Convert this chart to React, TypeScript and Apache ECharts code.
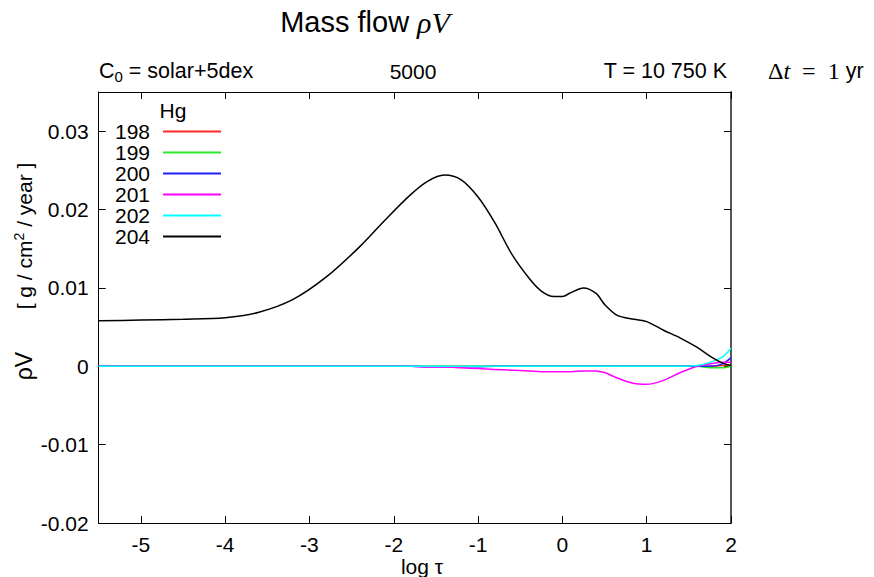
import React, { useEffect, useRef } from 'react';
import * as echarts from 'echarts';

const logTau = [-5.5, -5, -4.5, -4, -3.6, -3.2, -2.8, -2.4, -2.1, -1.8, -1.6, -1.4, -1.2, -1.0, -0.8, -0.6, -0.4, -0.25, -0.1, 0.0, 0.1, 0.25, 0.4, 0.5, 0.65, 0.85, 1.0, 1.2, 1.4, 1.6, 1.75, 1.9, 2.0];

const hg198 = [0, 0, 0, 0, 0, 0, 0, 0, 0, 0, 0, 0, 0, 0, 0, 0, 0, 0, 0, 0, 0, 0, 0, 0, 0, 0, 0, 0, 0, 0, 0.0, 0.0001, 0.0001];
const hg199 = [0, 0, 0, 0, 0, 0, 0, 0, 0, 0, 0, 0, 0, 0, 0, 0, 0, 0, 0, 0, 0, 0, 0, 0, 0, 0, 0, 0, 0, 0, -0.0002, -0.0002, 0.0];
const hg200 = [0, 0, 0, 0, 0, 0, 0, 0, 0, 0, -0.00005, -0.00005, -0.00005, -0.00005, 0, 0, 0, 0, 0, 0, 0, 0, 0, 0, 0, 0, 0, 0, 0, 0, 0.0, 0.0003, 0.0011];
const hg201 = [0, 0, 0, 0, 0, 0, 0, 0, 0, 0, -0.0001, -0.0001, -0.0002, -0.0003, -0.0004, -0.0005, -0.0006, -0.0007, -0.0007, -0.0007, -0.0007, -0.0006, -0.0006, -0.0008, -0.0015, -0.0022, -0.0023, -0.0018, -0.0008, 0.0, 0.0003, 0.0005, 0.0005];
const hg202 = [0, 0, 0, 0, 0, 0, 0, 0, 0, 0, 0, 0, 0, 0, 0, 0, 0, 0, 0, 0, 0, 0, 0, 0, 0, 0, 0, 0, 0, 0.0001, 0.0005, 0.0012, 0.0023];
const hg204 = [0.0058, 0.0059, 0.0060, 0.0062, 0.0069, 0.0085, 0.0114, 0.0153, 0.0187, 0.0219, 0.0236, 0.0244, 0.0238, 0.0216, 0.0183, 0.0143, 0.0113, 0.0096, 0.0089, 0.0089, 0.0094, 0.0100, 0.0093, 0.0079, 0.0065, 0.0060, 0.0057, 0.0046, 0.0036, 0.0024, 0.0013, 0.0004, 0.0001];

const seriesNames = ['198', '199', '200', '201', '202', '204'];
const seriesValues = [hg198, hg199, hg200, hg201, hg202, hg204];
const seriesColors = ['#ff2828', '#28e828', '#2020ff', '#ff00ff', '#00ffff', '#000000'];

const xTicks = [-5, -4, -3, -2, -1, 0, 1, 2];
const yTicks = [-0.02, -0.01, 0, 0.01, 0.02, 0.03];

const SANS = "'Liberation Sans', Arial, sans-serif";
const SERIF = "'Liberation Serif', 'DejaVu Serif', serif";

export default function App() {
  const ref = useRef<HTMLDivElement>(null);
  useEffect(() => {
    const chart = echarts.init(ref.current!, null, { renderer: 'svg' });
    const axisCommon = {
      type: 'value',
      axisLine: { show: true, onZero: false, lineStyle: { color: '#000', width: 1 } },
      splitLine: { show: false },
    };
    const option: any = {
      animation: false,
      backgroundColor: '#fff',
      grid: { left: 98.7, right: 143, top: 92, bottom: 54, show: false },
      xAxis: [
        {
          ...axisCommon,
          position: 'bottom',
          min: -5.5,
          max: 2,
          axisTick: { show: true, inside: true, length: 7, customValues: xTicks, lineStyle: { color: '#000' } },
          axisLabel: { show: true, customValues: xTicks, margin: 11, fontSize: 21, color: '#000', fontFamily: SANS },
        },
        {
          ...axisCommon,
          position: 'top',
          min: -5.5,
          max: 2,
          axisTick: { show: true, inside: true, length: 7, customValues: xTicks, lineStyle: { color: '#000' } },
          axisLabel: { show: false },
        },
      ],
      yAxis: [
        {
          ...axisCommon,
          position: 'left',
          min: -0.02,
          max: 0.035,
          axisTick: { show: true, inside: true, length: 7, customValues: yTicks, lineStyle: { color: '#000' } },
          axisLabel: {
            show: true, customValues: yTicks, margin: 10, fontSize: 21, color: '#000', fontFamily: SANS,
            formatter: (v: number) => (Math.abs(v) < 1e-9 ? '0' : v.toFixed(2)),
          },
        },
        {
          ...axisCommon,
          position: 'right',
          min: -0.02,
          max: 0.035,
          axisLine: { show: true, onZero: false, lineStyle: { color: '#555', width: 2 } },
          axisTick: { show: true, inside: true, length: 7, customValues: yTicks, lineStyle: { color: '#000', width: 1 } },
          axisLabel: { show: false },
        },
      ],
      legend: {
        data: seriesNames,
        orient: 'vertical',
        left: 110,
        top: 116,
        align: 'right',
        itemWidth: 58,
        itemHeight: 2,
        itemGap: 0,
        icon: 'rect',
        selectedMode: false,
        textStyle: { fontSize: 21, color: '#000', fontFamily: SANS, padding: [0, 8, 0, 0] },
      },
      series: seriesNames.map((name, i) => ({
        name,
        type: 'line',
        xAxisIndex: 0,
        yAxisIndex: 0,
        showSymbol: false,
        smooth: 0.3,
        color: seriesColors[i],
        lineStyle: { color: seriesColors[i], width: 1.5 },
        data: logTau.map((x, j) => [x, seriesValues[i][j]]),
        z: 2 + i,
      })),
      graphic: [
        {
          type: 'text', x: 365, y: 22,
          style: {
            text: '{a|Mass flow }{b|ρV}',
            align: 'center', verticalAlign: 'middle', fill: '#000',
            rich: {
              a: { fontSize: 29, fontFamily: SANS, fill: '#000' },
              b: { fontSize: 30, fontFamily: SERIF, fontStyle: 'italic', fill: '#000' },
            },
          },
        },
        {
          type: 'text', x: 99, y: 71,
          style: {
            text: '{a|C}{s|0}{a| = solar+5dex}',
            align: 'left', verticalAlign: 'middle', fill: '#000',
            rich: {
              a: { fontSize: 21.5, fontFamily: SANS, fill: '#000', lineHeight: 26, verticalAlign: 'middle' },
              s: { fontSize: 15, fontFamily: SANS, fill: '#000', lineHeight: 26, verticalAlign: 'bottom', padding: [8, 0, 0, 0] },
            },
          },
        },
        {
          type: 'text', x: 413, y: 71,
          style: { text: '5000', align: 'center', verticalAlign: 'middle', fontSize: 21, fontFamily: SANS, fill: '#000' },
        },
        {
          type: 'text', x: 727, y: 71,
          style: { text: 'T = 10 750 K', align: 'right', verticalAlign: 'middle', fontSize: 21.5, fontFamily: SANS, fill: '#000' },
        },
        {
          type: 'text', x: 768, y: 71,
          style: {
            text: '{u|Δ}{i|t}{u|  =  1 }{a|yr}',
            align: 'left', verticalAlign: 'middle', fill: '#000',
            rich: {
              u: { fontSize: 24, fontFamily: SERIF, fill: '#000' },
              i: { fontSize: 24, fontFamily: SERIF, fontStyle: 'italic', fill: '#000' },
              a: { fontSize: 21.5, fontFamily: SANS, fill: '#000' },
            },
          },
        },
        {
          type: 'text', x: 24, y: 236, rotation: Math.PI / 2,
          style: {
            text: '{a|[ g / cm}{s|2}{a| / year ]}',
            align: 'center', verticalAlign: 'middle', fill: '#000',
            rich: {
              a: { fontSize: 21, fontFamily: SANS, fill: '#000', lineHeight: 26 },
              s: { fontSize: 14, fontFamily: SANS, fill: '#000', lineHeight: 26, padding: [0, 0, 10, 0] },
            },
          },
        },
        {
          type: 'text', x: 24, y: 366, rotation: Math.PI / 2,
          style: { text: 'ρV', align: 'center', verticalAlign: 'middle', fontSize: 23, fontFamily: SANS, fill: '#000' },
        },
        {
          type: 'text', x: 173, y: 110,
          style: { text: 'Hg', align: 'center', verticalAlign: 'middle', fontSize: 21, fontFamily: SANS, fill: '#000' },
        },
        {
          type: 'text', x: 422, y: 566,
          style: { text: 'log τ', align: 'center', verticalAlign: 'middle', fontSize: 21, fontFamily: SANS, fill: '#000' },
        },
      ],
    };
    chart.setOption(option);
    return () => chart.dispose();
  }, []);
  return (
    <div
      ref={ref}
      style={{ position: 'fixed', left: 0, top: 0, width: 874, height: 577, background: '#fff' }}
    />
  );
}
